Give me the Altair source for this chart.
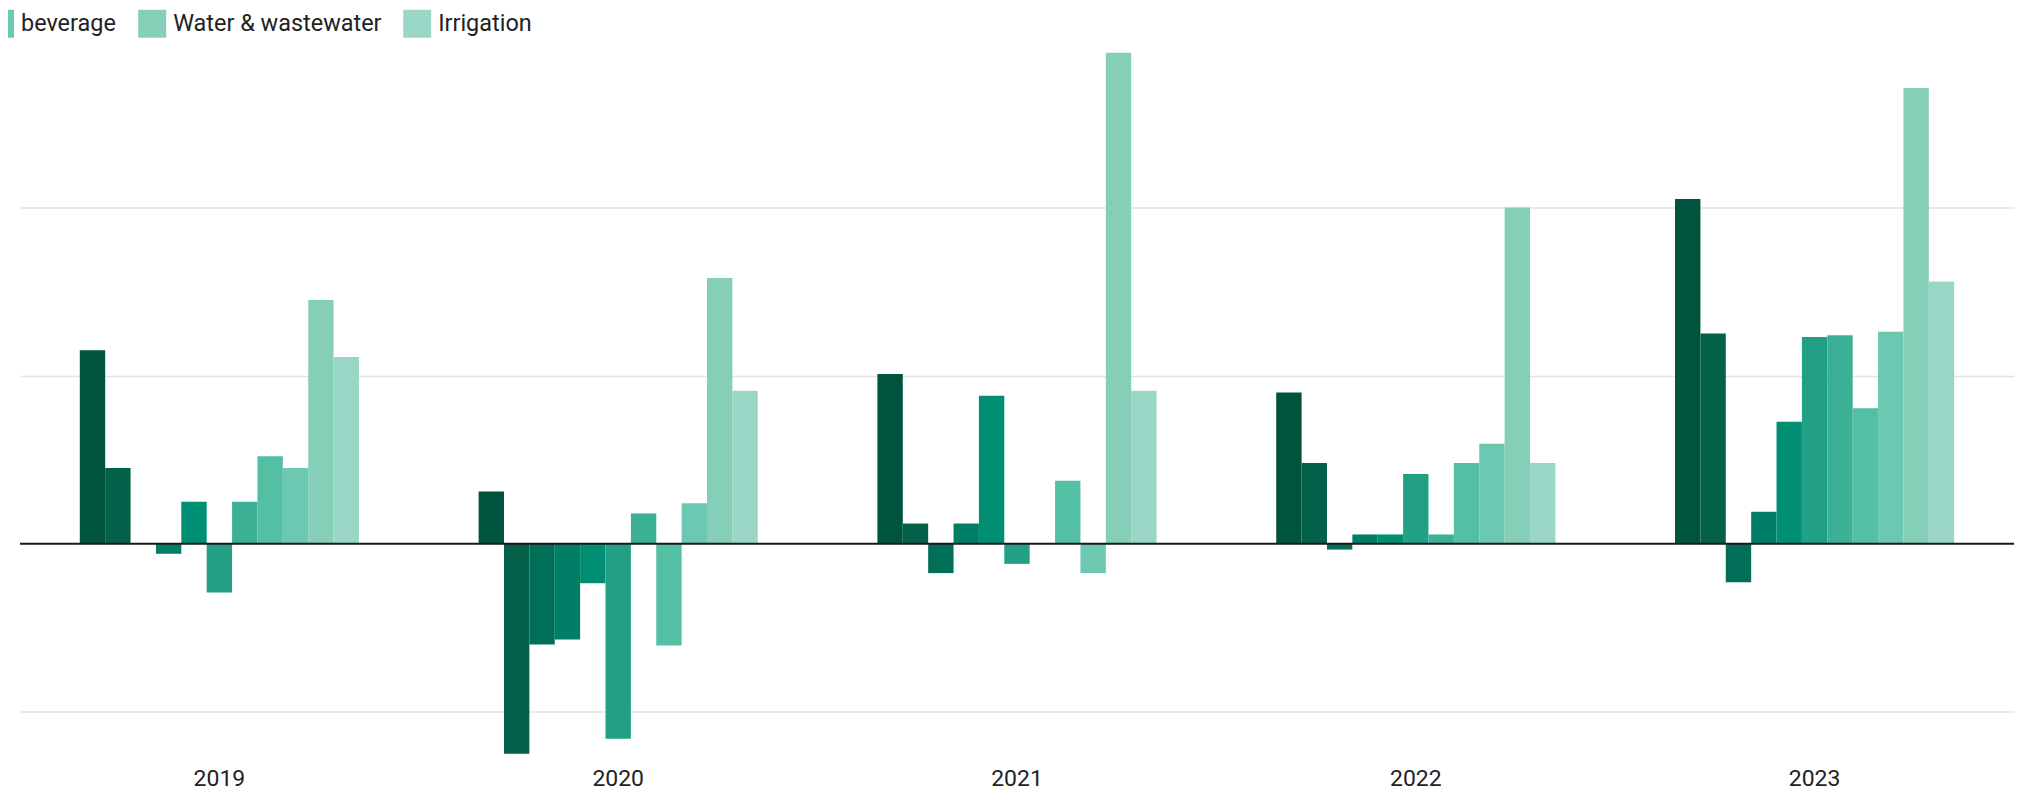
import altair as alt
import pandas as pd

years = ["2019", "2020", "2021", "2022", "2023"]

series = [
    "Sector 1", "Sector 2", "Sector 3", "Sector 4", "Sector 5",
    "Sector 6", "Sector 7", "Sector 8",
    "Food & beverage", "Water & wastewater", "Irrigation",
]

colors = [
    "#00533c", "#03614a", "#016f57", "#007f66", "#008f72", "#22a085",
    "#3bb095", "#53bfa3", "#6cc8b1", "#85cfb9", "#99d6c5",
]

v2019 = [11.5, 4.5, 0.0, -0.6, 2.5, -2.9, 2.5, 5.2, 4.5, 14.5, 11.1]
v2020 = [3.1, -12.5, -6.0, -5.7, -2.35, -11.6, 1.8, -6.05, 2.4, 15.8, 9.1]
v2021 = [10.1, 1.2, -1.75, 1.2, 8.8, -1.2, 0.0, 3.75, -1.75, 29.2, 9.1]
v2022 = [9.0, 4.8, -0.35, 0.55, 0.55, 4.15, 0.55, 4.8, 5.95, 20.0, 4.8]
v2023 = [20.5, 12.5, -2.3, 1.9, 7.25, 12.3, 12.4, 8.05, 12.6, 27.1, 15.6]

values_by_year = [v2019, v2020, v2021, v2022, v2023]

rows = []
for y, vals in zip(years, values_by_year):
    for s, v in zip(series, vals):
        rows.append({"year": y, "series": s, "value": v})
df = pd.DataFrame(rows)

grid_values = [-10, 10, 20]
zero_df = pd.DataFrame({"value": [0]})

y_scale = alt.Scale(domain=[-13, 29.5], nice=False, zero=True)
y_axis = alt.Axis(
    title=None, values=grid_values, labels=False, ticks=False,
    domain=False, grid=True, gridColor="#e3e3e3", gridWidth=1.5,
)

bars = alt.Chart(df).mark_bar().encode(
    x=alt.X(
        "year:N",
        sort=years,
        scale=alt.Scale(paddingInner=0.3, paddingOuter=0.15),
        axis=alt.Axis(
            title=None, labelAngle=0, ticks=False, domain=False, grid=False,
            labelFontSize=23, labelColor="#222222", labelPadding=5,
            labelFont="Roboto",
        ),
    ),
    xOffset=alt.XOffset("series:N", sort=series,
                        scale=alt.Scale(paddingInner=0, paddingOuter=0)),
    y=alt.Y("value:Q", scale=y_scale, axis=y_axis),
    color=alt.Color(
        "series:N",
        sort=series,
        scale=alt.Scale(domain=series, range=colors),
        legend=alt.Legend(
            orient="none", legendX=-34, legendY=-38, direction="horizontal",
            title=None,
            values=["Food & beverage", "Water & wastewater", "Irrigation"],
            labelExpr="datum.label == 'Food & beverage' ? 'beverage' : datum.label",
            symbolType="square", symbolSize=784, symbolStrokeWidth=0,
            symbolOpacity=1, labelFontSize=23.5, labelOffset=7,
            columnPadding=21.5, padding=0, labelColor="#222222", labelLimit=400,
            labelFont="Roboto",
        ),
    ),
)

zero = alt.Chart(zero_df).mark_rule(color="#1a1a1a", strokeWidth=2).encode(
    y=alt.Y("value:Q", scale=y_scale, axis=y_axis)
)

chart = (
    alt.layer(bars, zero)
    .properties(
        width=1998,
        height=716,
        autosize=alt.AutoSizeParams(type="none"),
        padding={"left": 12, "top": 39, "right": 4, "bottom": 28},
    )
    .configure(font="Roboto")
    .configure_view(strokeWidth=0)
)

chart.save("out.html", embed_options={"renderer": "svg", "actions": False})
